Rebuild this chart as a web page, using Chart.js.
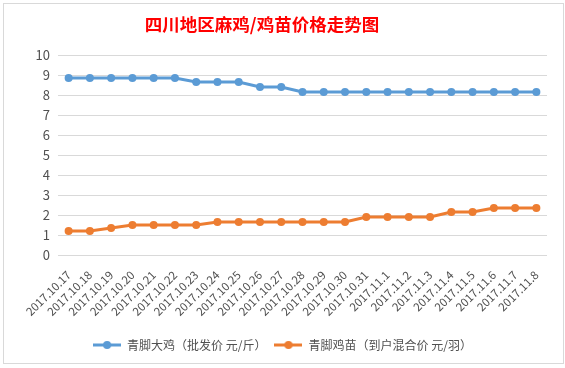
<!DOCTYPE html>
<html>
<head>
<meta charset="utf-8">
<script src="https://cdn.jsdelivr.net/npm/chart.js"></script>
<style>
  html, body { margin: 0; padding: 0; background: #fff; }
  #wrap { position: relative; width: 565px; height: 368px; }
  #frame { position: absolute; left: 3px; top: 3px; width: 559px; height: 359px; border: 1px solid #d9d9d9; }
  canvas { position: absolute; left: 0; top: 0; }
</style>
</head>
<body>
<div id="wrap">
  <div id="frame"></div>
  <canvas id="chart" width="565" height="368"></canvas>
</div>
<script>
// dates on the x axis
var dates = ['2017.10.17','2017.10.18','2017.10.19','2017.10.20','2017.10.21','2017.10.22',
  '2017.10.23','2017.10.24','2017.10.25','2017.10.26','2017.10.27','2017.10.28','2017.10.29',
  '2017.10.30','2017.10.31','2017.11.1','2017.11.2','2017.11.3','2017.11.4','2017.11.5',
  '2017.11.6','2017.11.7','2017.11.8'];

// 青脚大鸡 (批发价 元/斤)
var daji = [8.85,8.85,8.85,8.85,8.85,8.85,8.65,8.65,8.65,8.4,8.4,8.15,8.15,8.15,8.15,8.15,8.15,8.15,8.15,8.15,8.15,8.15,8.15];
// 青脚鸡苗 (到户混合价 元/羽)
var jimiao = [1.2,1.2,1.35,1.5,1.5,1.5,1.5,1.65,1.65,1.65,1.65,1.65,1.65,1.65,1.9,1.9,1.9,1.9,2.15,2.15,2.35,2.35,2.35];

var seriesNames = ['青脚大鸡（批发价 元/斤）', '青脚鸡苗（到户混合价 元/羽）'];
var title = '四川地区麻鸡/鸡苗价格走势图';
var yMin = 0, yMax = 10, yStep = 1;

var blue = '#5b9bd5';
var orange = '#ed7d31';
var fontFam = '"Noto Sans CJK SC", "Microsoft YaHei", sans-serif';

// legend symbol: short line with a dot in the middle
function makeSymbol(color) {
  var c = document.createElement('canvas');
  c.width = 28; c.height = 10;
  var g = c.getContext('2d');
  g.strokeStyle = color;
  g.lineWidth = 3;
  g.beginPath(); g.moveTo(0, 5); g.lineTo(28, 5); g.stroke();
  g.fillStyle = color;
  g.beginPath(); g.arc(14, 5, 4, 0, Math.PI * 2); g.fill();
  return c;
}
var symbols = [makeSymbol(blue), makeSymbol(orange)];

var titlePlugin = {
  id: 'excelTitle',
  afterLayout: function(chart) {
    // excel puts the legend a bit right of the canvas centre
    chart.legend.left += 9;
    chart.legend.right += 9;
  },
  afterDraw: function(chart) {
    var ctx = chart.ctx;
    ctx.save();
    ctx.font = 'bold 17.5px ' + fontFam;
    ctx.fillStyle = '#ff0000';
    ctx.textAlign = 'center';
    ctx.textBaseline = 'middle';
    ctx.fillText(title, 262, 24);
    ctx.restore();
  }
};

var ctx = document.getElementById('chart').getContext('2d');
new Chart(ctx, {
  type: 'line',
  data: {
    labels: dates,
    datasets: [
      {
        label: seriesNames[0],
        data: daji,
        borderColor: blue,
        backgroundColor: blue,
        borderWidth: 3,
        pointRadius: 4,
        pointBorderWidth: 0,
        pointBackgroundColor: blue,
        fill: false,
        tension: 0
      },
      {
        label: seriesNames[1],
        data: jimiao,
        borderColor: orange,
        backgroundColor: orange,
        borderWidth: 3,
        pointRadius: 4,
        pointBorderWidth: 0,
        pointBackgroundColor: orange,
        fill: false,
        tension: 0
      }
    ]
  },
  options: {
    responsive: false,
    animation: false,
    layout: { padding: { left: 0, right: 18, top: 55, bottom: 7 } },
    plugins: {
      title: { display: false },
      tooltip: { enabled: false },
      legend: {
        display: true,
        position: 'bottom',
        labels: {
          usePointStyle: true,
          pointStyleWidth: 28,
          padding: 8,
          color: '#505050',
          font: { family: fontFam, size: 12 },
          generateLabels: function(chart) {
            var items = Chart.defaults.plugins.legend.labels.generateLabels(chart);
            items.forEach(function(it, i) { it.pointStyle = symbols[i]; });
            return items;
          }
        }
      }
    },
    scales: {
      x: {
        offset: true,
        grid: { display: false },
        border: { display: false },
        afterFit: function(scale) { scale.height = 76; },
        ticks: {
          autoSkip: false,
          minRotation: 45,
          maxRotation: 45,
          padding: 5,
          color: '#505050',
          font: { family: fontFam, size: 11.5 }
        }
      },
      y: {
        min: yMin,
        max: yMax,
        afterFit: function(scale) { scale.width = 58; },
        grid: { color: '#d9d9d9', drawTicks: false },
        border: { display: false },
        ticks: {
          stepSize: yStep,
          padding: 8,
          color: '#505050',
          font: { family: fontFam, size: 13 }
        }
      }
    }
  },
  plugins: [titlePlugin]
});
</script>
</body>
</html>
